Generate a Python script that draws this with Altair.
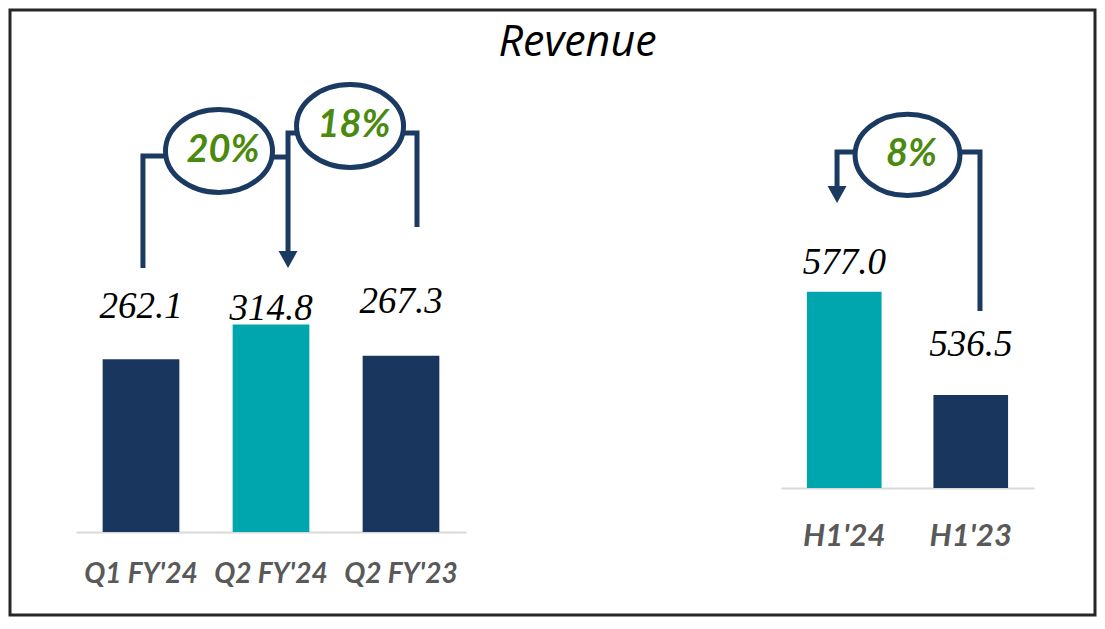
import altair as alt
import pandas as pd

# ---------------- data ----------------
title_text = "Revenue"
left_cats = ["Q1 FY'24", "Q2 FY'24", "Q2 FY'23"]
left_vals = [262.1, 314.8, 267.3]
right_cats = ["H1'24", "H1'23"]
right_vals = [577.0, 536.5]
highlight_cats = ["Q2 FY'24", "H1'24"]
growth_left = ["20%", "18%"]
growth_right = ["8%"]

# ---------------- styles / layout ----------------
NAVY = "#19365E"
TEAL = "#00A6AE"
LINE = "#1B3A62"
GREEN = "#4A8A0F"
GREY = "#595959"
W, H = 1085, 605

LPX = 0.659   # px per unit, left panel
RPX = 2.55    # px per unit, right panel

LX_BAND = alt.Scale(domain=left_cats, range=[66, 456], paddingInner=0.41, paddingOuter=0.205)
LX_LIN = alt.Scale(domain=[0, 3], range=[66, 456], nice=False, zero=False)
LY = alt.Scale(domain=[0, 400], range=[522, 522 - 400 * LPX], nice=False, zero=False)

RX_BAND = alt.Scale(domain=right_cats, range=[771, 1024], paddingInner=0.41, paddingOuter=0.205)
RX_LIN = alt.Scale(domain=[0, 2], range=[771, 1024], nice=False, zero=False)
RY = alt.Scale(domain=[500, 600], range=[478, 478 - 100 * RPX], nice=False, zero=False)

ELLIPSE = "M -1 0 A 1 0.775 0 1 1 1 0 A 1 0.775 0 1 1 -1 0 Z"
ARROW = "M -1 -0.9 L 1 -0.9 L 0 0.9 Z"


def xaxis(offset, size, pad):
    return alt.Axis(orient="bottom", offset=offset, title=None, ticks=False, tickSize=0,
                    labelPadding=pad, labelBaseline="middle", labelAngle=0,
                    labelFont="Lato", labelFontSize=size, labelFontStyle="italic",
                    labelFontWeight="bold", labelColor=GREY, domainColor="#D9D9D9",
                    domainWidth=2, grid=False)


def bar_color():
    return alt.condition(alt.FieldOneOfPredicate(field="cat", oneOf=highlight_cats),
                         alt.value(TEAL), alt.value(NAVY))


# ---------------- left panel ----------------
ldf = pd.DataFrame({"cat": left_cats, "val": left_vals})
ldf["ly"] = ldf["val"] + pd.Series([41, 5, 43]) / LPX

left_bars = alt.Chart(ldf).mark_bar().encode(
    x=alt.X("cat:N", scale=LX_BAND, axis=xaxis(-83, 28, 42), sort=left_cats),
    y=alt.Y("val:Q", scale=LY, axis=None),
    y2=alt.datum(0),
    color=bar_color(),
)
left_labels = alt.Chart(ldf).mark_text(font="Liberation Serif", fontSize=37, fontStyle="italic",
                                       baseline="alphabetic", align="center", color="black").encode(
    x=alt.X("cat:N", scale=LX_BAND, sort=left_cats),
    y=alt.Y("ly:Q", scale=LY, axis=None),
    text=alt.Text("val:Q", format=".1f"),
)
left_core = alt.layer(left_bars, left_labels)

l_lines = pd.DataFrame({
    "seg": ["a", "a", "a", "b", "b", "c", "c", "c", "d", "d", "d"],
    "ord": [0, 1, 2, 0, 1, 0, 1, 2, 0, 1, 2],
    "x": [0.515, 0.515, 0.8, 1.4, 1.631, 1.8, 1.631, 1.631, 2.4, 2.623, 2.623],
    "y": [400.6, 570.6, 570.6, 569.0, 569.0, 605.5, 605.5, 420.3, 605.5, 605.5, 462.8],
})
l_ell = pd.DataFrame({"x": [1.1, 2.108], "y": [578.2, 616.1], "t": growth_left})
l_arrow = pd.DataFrame({"x": [1.631], "y": [413.5]})

ll = alt.Chart(l_lines).mark_line(color=LINE, strokeWidth=5, strokeJoin="miter").encode(
    x=alt.X("x:Q", scale=LX_LIN, axis=None),
    y=alt.Y("y:Q", scale=LY, axis=None),
    detail="seg:N", order="ord:Q")
la = alt.Chart(l_arrow).mark_point(shape=ARROW, filled=True, size=361, color=LINE, opacity=1).encode(
    x=alt.X("x:Q", scale=LX_LIN, axis=None), y=alt.Y("y:Q", scale=LY, axis=None))
le = alt.Chart(l_ell).mark_point(shape=ELLIPSE, filled=True, fill="white", stroke=LINE,
                                 strokeWidth=5, size=11449, opacity=1).encode(
    x=alt.X("x:Q", scale=LX_LIN, axis=None), y=alt.Y("y:Q", scale=LY, axis=None))
lt = alt.Chart(l_ell).mark_text(font="Lato", fontSize=38, fontStyle="italic", fontWeight="bold",
                                color=GREEN, baseline="middle", align="center", dx=4).encode(
    x=alt.X("x:Q", scale=LX_LIN, axis=None), y=alt.Y("y:Q", scale=LY, axis=None), text="t:N")
left_ann = alt.layer(ll, la, le, lt)
left_group = alt.layer(left_core, left_ann).resolve_scale(x="independent")

# ---------------- right panel ----------------
rdf = pd.DataFrame({"cat": right_cats, "val": right_vals})
rdf["ly"] = rdf["val"] + pd.Series([18, 39]) / RPX

right_bars = alt.Chart(rdf).mark_bar().encode(
    x=alt.X("cat:N", scale=RX_BAND, axis=xaxis(-127, 31, 48), sort=right_cats),
    y=alt.Y("val:Q", scale=RY, axis=None),
    y2=alt.datum(500),
    color=bar_color(),
)
right_labels = alt.Chart(rdf).mark_text(font="Liberation Serif", fontSize=37, fontStyle="italic",
                                        baseline="alphabetic", align="center", color="black").encode(
    x=alt.X("cat:N", scale=RX_BAND, sort=right_cats),
    y=alt.Y("ly:Q", scale=RY, axis=None),
    text=alt.Text("val:Q", format=".1f"),
)
right_core = alt.layer(right_bars, right_labels)

r_lines = pd.DataFrame({
    "seg": ["e", "e", "e", "f", "f", "f"],
    "ord": [0, 1, 2, 0, 1, 2],
    "x": [0.7, 0.443, 0.443, 1.3, 1.573, 1.573],
    "y": [631.8, 631.8, 616.9, 631.8, 631.8, 569.4],
})
r_ell = pd.DataFrame({"x": [1.0], "y": [630.6], "t": growth_right})
r_arrow = pd.DataFrame({"x": [0.443], "y": [615.1]})

rl = alt.Chart(r_lines).mark_line(color=LINE, strokeWidth=5, strokeJoin="miter").encode(
    x=alt.X("x:Q", scale=RX_LIN, axis=None),
    y=alt.Y("y:Q", scale=RY, axis=None),
    detail="seg:N", order="ord:Q")
ra = alt.Chart(r_arrow).mark_point(shape=ARROW, filled=True, size=361, color=LINE, opacity=1).encode(
    x=alt.X("x:Q", scale=RX_LIN, axis=None), y=alt.Y("y:Q", scale=RY, axis=None))
re_ = alt.Chart(r_ell).mark_point(shape=ELLIPSE, filled=True, fill="white", stroke=LINE,
                                  strokeWidth=5, size=11000, opacity=1).encode(
    x=alt.X("x:Q", scale=RX_LIN, axis=None), y=alt.Y("y:Q", scale=RY, axis=None))
rt = alt.Chart(r_ell).mark_text(font="Lato", fontSize=38, fontStyle="italic", fontWeight="bold",
                                color=GREEN, baseline="middle", align="center", dx=4).encode(
    x=alt.X("x:Q", scale=RX_LIN, axis=None), y=alt.Y("y:Q", scale=RY, axis=None), text="t:N")
right_ann = alt.layer(rl, ra, re_, rt)
right_group = alt.layer(right_core, right_ann).resolve_scale(x="independent")

# ---------------- title ----------------
title_layer = alt.Chart(pd.DataFrame({"t": [title_text]})).mark_text(
    font="Open Sans", fontSize=43, fontStyle="italic", baseline="alphabetic", align="center",
    color="black").encode(text="t:N", x=alt.value(567.5), y=alt.value(46))

chart = alt.layer(left_group, right_group, title_layer).resolve_scale(
    x="independent", y="independent"
).properties(
    width=W, height=H, padding=2, autosize=alt.AutoSizeParams(type="none"),
    background="white",
).configure_view(stroke="#262626", strokeWidth=3)

chart.save("out.html", embed_options={"renderer": "svg", "actions": False})
